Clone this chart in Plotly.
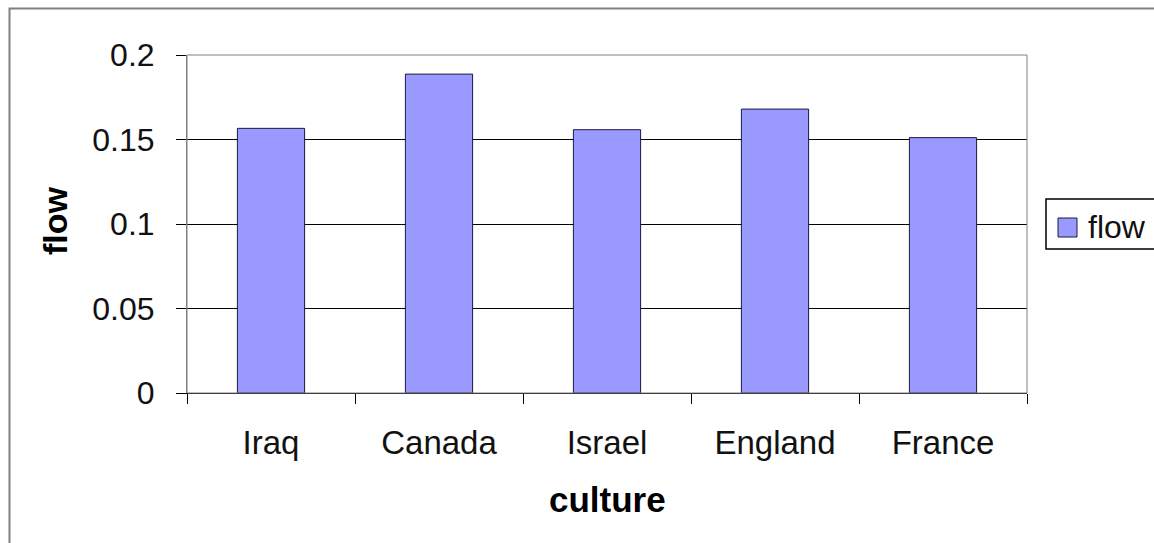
import plotly.graph_objects as go

categories = ["Iraq", "Canada", "Israel", "England", "France"]
flow = [0.1566, 0.1887, 0.1558, 0.1680, 0.1511]
y_ticks = [0, 0.05, 0.1, 0.15, 0.2]
y_tick_labels = ["0", "0.05", "0.1", "0.15", "0.2"]

W, H = 1154, 543
L, R, T, B = 187, 127, 55, 150
pw, ph = W - L - R, H - T - B

def px(x):
    return (x - L) / pw

def py(y):
    return (H - B - y) / ph

FONT = "Liberation Sans, Arial, sans-serif"

fig = go.Figure()
fig.add_trace(go.Bar(
    x=categories, y=flow, name="flow",
    marker=dict(color="#9999FF", line=dict(color="#1a1a40", width=1)),
    showlegend=False,
))

fig.update_layout(
    width=W, height=H,
    margin=dict(l=L, r=R, t=T, b=B, pad=0),
    paper_bgcolor="white", plot_bgcolor="white",
    bargap=0.6,
    font=dict(family=FONT, color="black", size=30),
    xaxis=dict(
        type="category",
        showline=True, linecolor="black", linewidth=1,
        ticks="outside", tickson="boundaries", ticklen=10, tickcolor="black",
        tickfont=dict(size=33, family=FONT, color="#111111"),
        ticklabelstandoff=20,
        showgrid=False,
    ),
    yaxis=dict(
        range=[0, 0.2],
        tickvals=y_ticks, ticktext=y_tick_labels,
        showline=True, linecolor="#808080", linewidth=1,
        ticks="outside", ticklen=10, tickcolor="black",
        tickfont=dict(size=32, family=FONT, color="#111111"),
        ticklabelstandoff=15,
        showgrid=True, gridcolor="black", gridwidth=1,
        zeroline=False,
    ),
    shapes=[
        # plot area border
        dict(type="rect", xref="paper", yref="paper", x0=0, x1=1, y0=0, y1=1,
             line=dict(color="#808080", width=1), layer="above"),
        # outer chart border
        dict(type="rect", xref="paper", yref="paper",
             x0=px(9.5), x1=px(1165), y0=py(555), y1=py(8.5),
             line=dict(color="#808080", width=2)),
        # legend box
        dict(type="rect", xref="paper", yref="paper",
             x0=px(1046), x1=px(1170), y0=py(249), y1=py(199),
             line=dict(color="black", width=1.5), fillcolor="white"),
        # legend swatch
        dict(type="rect", xref="paper", yref="paper",
             x0=px(1058), x1=px(1077), y0=py(237), y1=py(218),
             line=dict(color="#1a1a40", width=1), fillcolor="#9999FF"),
    ],
    annotations=[
        dict(text="<b>flow</b>", textangle=-90, xref="paper", yref="paper",
             x=px(55), y=py(221), showarrow=False,
             font=dict(size=34, family=FONT), xanchor="center", yanchor="middle"),
        dict(text="<b>culture</b>", xref="paper", yref="paper",
             x=px(607), y=py(499), showarrow=False,
             font=dict(size=35, family=FONT), xanchor="center", yanchor="middle"),
        dict(text="flow", xref="paper", yref="paper",
             x=px(1086), y=py(227), showarrow=False,
             font=dict(size=32, family=FONT, color="#111111"), xanchor="left", yanchor="middle"),
    ],
)

fig.write_html("out.html")
